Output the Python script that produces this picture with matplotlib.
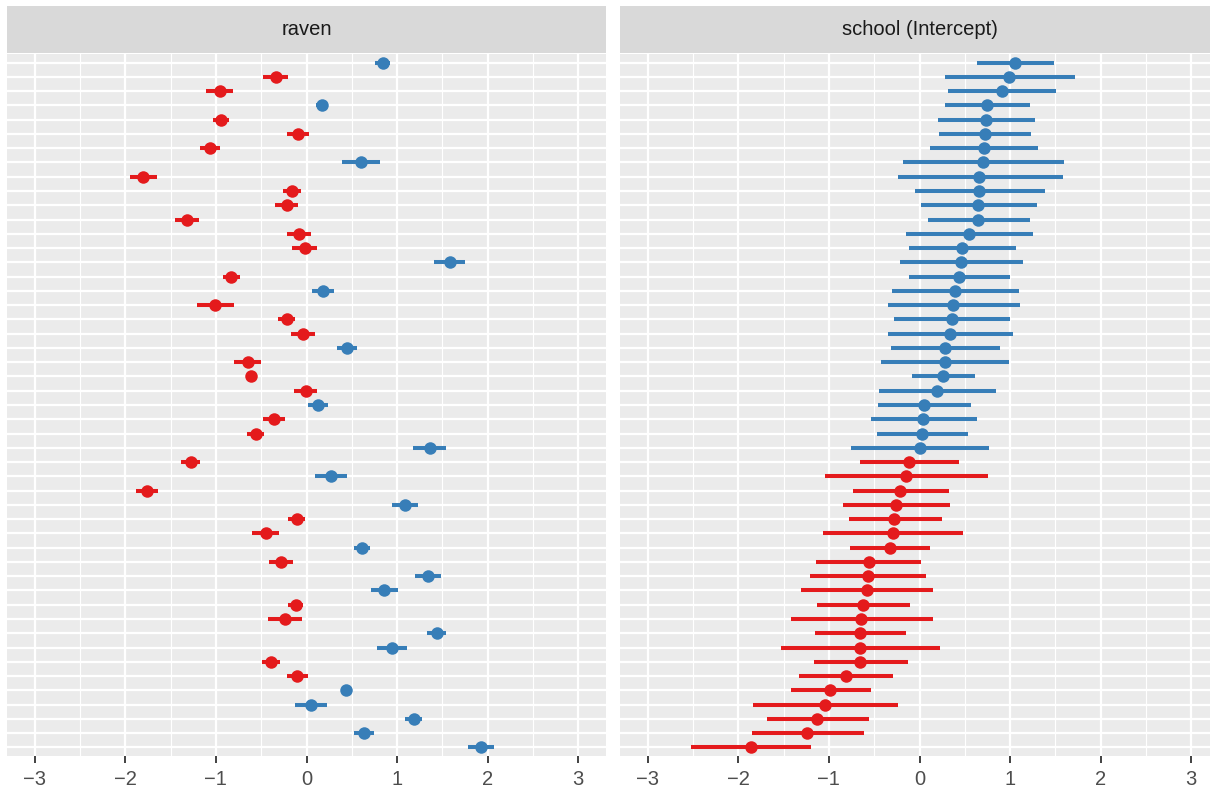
import numpy as np
import matplotlib; matplotlib.use('Agg')
import matplotlib.pyplot as plt

plt.rcParams['font.family'] = ['Liberation Sans', 'DejaVu Sans']

RED = '#E41A1C'
BLUE = '#377EB8'

# raven slope per school, listed top to bottom: estimate and half-width of the interval
raven_est = [0.84, -0.34, -0.96, 0.17, -0.945, -0.09, -1.07, 0.60, -1.80, -0.16,
             -0.22, -1.32, -0.08, -0.02, 1.58, -0.83, 0.18, -1.005, -0.22, -0.04,
             0.45, -0.65, -0.61, -0.01, 0.125, -0.36, -0.56, 1.36, -1.28, 0.27,
             -1.76, 1.09, -0.11, -0.45, 0.61, -0.28, 1.345, 0.86, -0.12, -0.24,
             1.435, 0.94, -0.395, -0.10, 0.435, 0.05, 1.185, 0.635, 1.93]
raven_err = [0.08, 0.14, 0.15, 0.07, 0.09, 0.12, 0.11, 0.21, 0.145, 0.095,
             0.125, 0.135, 0.13, 0.14, 0.175, 0.095, 0.12, 0.20, 0.09, 0.13,
             0.11, 0.15, 0.0, 0.13, 0.11, 0.12, 0.095, 0.185, 0.10, 0.18,
             0.12, 0.145, 0.095, 0.15, 0.09, 0.135, 0.145, 0.145, 0.085, 0.185,
             0.10, 0.165, 0.10, 0.115, 0.05, 0.175, 0.095, 0.11, 0.145]

# school intercepts, sorted, top to bottom
school_est = [1.05, 0.99, 0.91, 0.75, 0.73, 0.725, 0.71, 0.70, 0.66, 0.66,
              0.65, 0.645, 0.545, 0.47, 0.455, 0.44, 0.39, 0.375, 0.355, 0.34,
              0.28, 0.28, 0.26, 0.19, 0.05, 0.04, 0.025, 0.005, -0.115, -0.15,
              -0.21, -0.26, -0.28, -0.295, -0.325, -0.56, -0.57, -0.58, -0.62, -0.645,
              -0.655, -0.66, -0.66, -0.815, -0.99, -1.04, -1.13, -1.24, -1.86]
school_lo = [0.63, 0.28, 0.32, 0.28, 0.20, 0.22, 0.12, -0.18, -0.24, -0.05,
             0.02, 0.09, -0.15, -0.12, -0.22, -0.12, -0.30, -0.35, -0.28, -0.35,
             -0.32, -0.43, -0.08, -0.45, -0.46, -0.53, -0.47, -0.755, -0.66, -1.04,
             -0.73, -0.84, -0.78, -1.06, -0.77, -1.14, -1.21, -1.31, -1.13, -1.42,
             -1.15, -1.53, -1.17, -1.325, -1.42, -1.835, -1.68, -1.85, -2.52]
school_hi = [1.48, 1.72, 1.51, 1.22, 1.28, 1.23, 1.31, 1.60, 1.58, 1.38,
             1.30, 1.215, 1.25, 1.07, 1.14, 1.00, 1.10, 1.11, 1.00, 1.03,
             0.89, 0.99, 0.61, 0.84, 0.57, 0.63, 0.53, 0.77, 0.44, 0.76,
             0.33, 0.34, 0.245, 0.485, 0.12, 0.02, 0.07, 0.145, -0.10, 0.145,
             -0.15, 0.23, -0.13, -0.295, -0.54, -0.24, -0.56, -0.61, -1.20]

panel_titles = ['raven', 'school (Intercept)']
xticks = [-3, -2, -1, 0, 1, 2, 3]

W, H = 1210, 790
fig = plt.figure(figsize=(W / 100, H / 100), dpi=100)
fig.patch.set_facecolor('white')


def add_panel(x0, title):
    # panel in pixel coordinates: x0..x0+599, y 54..756 ; strip 6..53
    ax = fig.add_axes([x0 / W, (H - 756) / H, 599 / W, 702 / H])
    st = fig.add_axes([x0 / W, (H - 53) / H, 599 / W, 47 / H])
    st.set_facecolor('#D9D9D9')
    st.set_xticks([]); st.set_yticks([])
    for s in st.spines.values():
        s.set_visible(False)
    st.text(0.5, 0.5, title, ha='center', va='center', fontsize=14.5, color='#1A1A1A',
            transform=st.transAxes)
    ax.set_facecolor('#EBEBEB')
    for s in ax.spines.values():
        s.set_visible(False)
    ax.set_xlim(-3.306, 3.306)
    ax.set_xticks(xticks)
    ax.set_xticklabels([str(t).replace('-', '\u2212') for t in xticks])
    ax.set_xticks([-2.5, -1.5, -0.5, 0.5, 1.5, 2.5], minor=True)
    ax.tick_params(axis='x', which='major', length=5, width=1.3, color='#333333',
                   labelsize=14.5, labelcolor='#4D4D4D', pad=5)
    ax.tick_params(axis='x', which='minor', length=0)
    ax.tick_params(axis='y', which='both', length=0, labelleft=False)
    ax.grid(True, which='major', color='white', linewidth=1.6)
    ax.grid(True, which='minor', axis='x', color='white', linewidth=0.8)
    ax.set_axisbelow(True)
    return ax


n = len(raven_est)
y = np.arange(n)[::-1]
ylim = (-0.6, n - 1 + 0.6)

ax1 = add_panel(7, panel_titles[0])
re = np.array(raven_est); rr = np.array(raven_err)
for yi, e, r in zip(y, re, rr):
    c = RED if e < 0 else BLUE
    ax1.plot([e - r, e + r], [yi, yi], color=c, linewidth=2.9, solid_capstyle='butt', zorder=3)
    ax1.plot(e, yi, 'o', color=c, markersize=9, markeredgewidth=0, zorder=4)
ax1.set_ylim(*ylim)
ax1.set_yticks(y)

ax2 = add_panel(620, panel_titles[1])
se = np.array(school_est)
for yi, e, lo, hi in zip(y, se, school_lo, school_hi):
    c = RED if e < 0 else BLUE
    ax2.plot([lo, hi], [yi, yi], color=c, linewidth=2.9, solid_capstyle='butt', zorder=3)
    ax2.plot(e, yi, 'o', color=c, markersize=9, markeredgewidth=0, zorder=4)
ax2.set_ylim(*ylim)
ax2.set_yticks(y)

fig.savefig('out.png', dpi=100)
